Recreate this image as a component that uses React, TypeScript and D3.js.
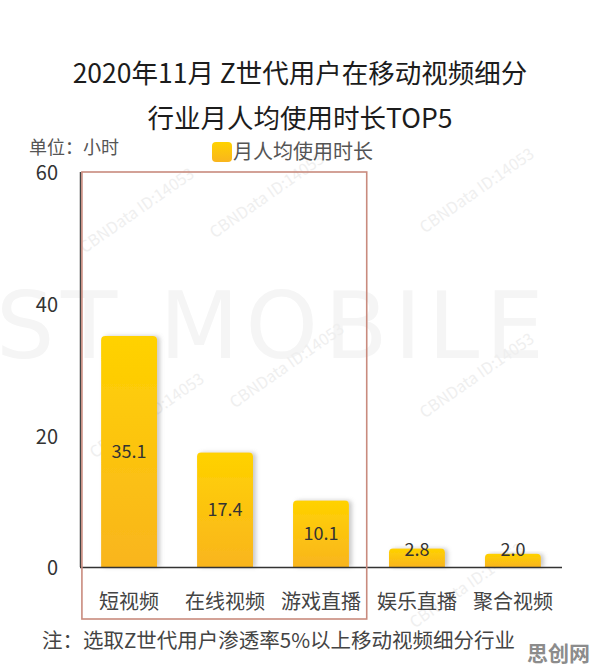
import React from "react";
import * as d3 from "d3";

const categories = ["短视频", "在线视频", "游戏直播", "娱乐直播", "聚合视频"];
const values = [35.1, 17.4, 10.1, 2.8, 2.0];
const yTicks = [0, 20, 40, 60];
const titleLines = ["2020年11月 Z世代用户在移动视频细分", "行业月人均使用时长TOP5"];
const unitLabel = "单位：小时";
const legendLabel = "月人均使用时长";
const noteText = "注：选取Z世代用户渗透率5%以上移动视频细分行业";
const brandText = "思创网";
const highlighted = ["短视频", "在线视频", "游戏直播"];

const W = 596;
const H = 671;
const FONT = "'Noto Sans CJK SC', 'Noto Sans', sans-serif";

export default function App() {
  const x = d3
    .scaleBand<string>()
    .domain(categories)
    .range([80, 562])
    .paddingInner(0.417)
    .paddingOuter(0.22);
  const y = d3.scaleLinear().domain([0, 60]).range([567, 172]);
  const base = y(0);

  const barPath = (c: string, v: number) => {
    const x0 = x(c) as number;
    const w = x.bandwidth();
    const top = y(v);
    const r = Math.min(4, (base - top) / 2);
    const p = d3.path();
    p.moveTo(x0, base);
    p.lineTo(x0, top + r);
    p.quadraticCurveTo(x0, top, x0 + r, top);
    p.lineTo(x0 + w - r, top);
    p.quadraticCurveTo(x0 + w, top, x0 + w, top + r);
    p.lineTo(x0 + w, base);
    p.closePath();
    return p.toString();
  };

  const hiFirst = x(highlighted[0]) as number;
  const hiLast = (x(highlighted[highlighted.length - 1]) as number) + x.bandwidth();
  const boxLeft = hiFirst - x.step() * 0.2;
  const boxRight = hiLast + x.step() * 0.185;

  const marks = [
    [140, 215],
    [270, 200],
    [480, 195],
    [150, 420],
    [290, 370],
    [480, 380],
    [470, 590],
  ];

  return (
    <svg
      width={W}
      height={H}
      viewBox={`0 0 ${W} ${H}`}
      style={{ position: "absolute", left: 0, top: 0, background: "#fff" }}
      fontFamily={FONT}
    >
      <defs>
        <linearGradient id="barGrad" x1="0" y1="0" x2="0" y2="1">
          <stop offset="0%" stopColor="#FFD200" />
          <stop offset="100%" stopColor="#F9B51E" />
        </linearGradient>
        <filter id="shadow" x="-20%" y="-20%" width="150%" height="140%">
          <feDropShadow dx="3" dy="0" stdDeviation="2" floodColor="#8a8a8a" floodOpacity="0.45" />
        </filter>
      </defs>
      <rect x={0} y={0} width={W} height={H} fill="#fff" />

      {/* watermarks */}
      <text
        x={-4}
        y={358}
        fontSize={92}
        fontWeight={400}
        fill="#f5f5f5"
        textLength={548}
        lengthAdjust="spacing"
        fontFamily="'DejaVu Sans', sans-serif"
      >
        ST MOBILE
      </text>
      {marks.map(([mx, my], i) => (
        <text
          key={i}
          x={mx}
          y={my}
          fontSize={16}
          fill="#efefef"
          textAnchor="middle"
          transform={`rotate(-35 ${mx} ${my})`}
        >
          CBNData ID:14053
        </text>
      ))}

      {/* title */}
      {titleLines.map((t, i) => (
        <text
          key={t}
          x={300}
          y={83 + i * 45}
          fontSize={26.5}
          fill="#1c1c1c"
          textAnchor="middle"
        >
          {t}
        </text>
      ))}

      {/* unit + legend */}
      <text x={29} y={154} fontSize={18} fill="#555">
        {unitLabel}
      </text>
      <rect x={212} y={142} width={20} height={20} rx={4} fill="url(#barGrad)" />
      <text x={233} y={159} fontSize={20} fill="#555">
        {legendLabel}
      </text>

      {/* y axis */}
      <line x1={80.5} x2={80.5} y1={y(60)} y2={base} stroke="#444" strokeWidth={1.5} />
      {yTicks.map((t) => (
        <text
          key={t}
          x={58}
          y={y(t)}
          dy="0.42em"
          fontSize={20}
          fill="#333"
          textAnchor="end"
        >
          {t}
        </text>
      ))}

      {/* bars */}
      {categories.map((c, i) => (
        <path key={c} d={barPath(c, values[i])} fill="url(#barGrad)" filter="url(#shadow)" />
      ))}

      {/* x axis */}
      <line x1={80} x2={562} y1={base + 0.5} y2={base + 0.5} stroke="#333" strokeWidth={1.5} />

      {/* value labels */}
      {categories.map((c, i) => {
        const top = y(values[i]);
        const cy = Math.min((top + base) / 2, base - 17);
        return (
          <text
            key={c}
            x={(x(c) as number) + x.bandwidth() / 2}
            y={cy}
            dy="0.35em"
            fontSize={18}
            fill="#333"
            textAnchor="middle"
          >
            {values[i].toFixed(1)}
          </text>
        );
      })}

      {/* category labels */}
      {categories.map((c) => (
        <text
          key={c}
          x={(x(c) as number) + x.bandwidth() / 2}
          y={602}
          dy="0.35em"
          fontSize={20}
          fill="#444"
          textAnchor="middle"
        >
          {c}
        </text>
      ))}

      {/* highlight box */}
      <rect
        x={boxLeft}
        y={y(60)}
        width={boxRight - boxLeft}
        height={619 - y(60)}
        fill="none"
        stroke="#c98b7e"
        strokeWidth={1.6}
      />

      {/* note */}
      <text x={42} y={641} dy="0.35em" fontSize={20.5} fill="#444">
        {noteText}
      </text>

      {/* brand */}
      <text x={590} y={654} dy="0.35em" fontSize={21} fontWeight={700} fill="#8c8c8c" textAnchor="end">
        {brandText}
      </text>
    </svg>
  );
}
